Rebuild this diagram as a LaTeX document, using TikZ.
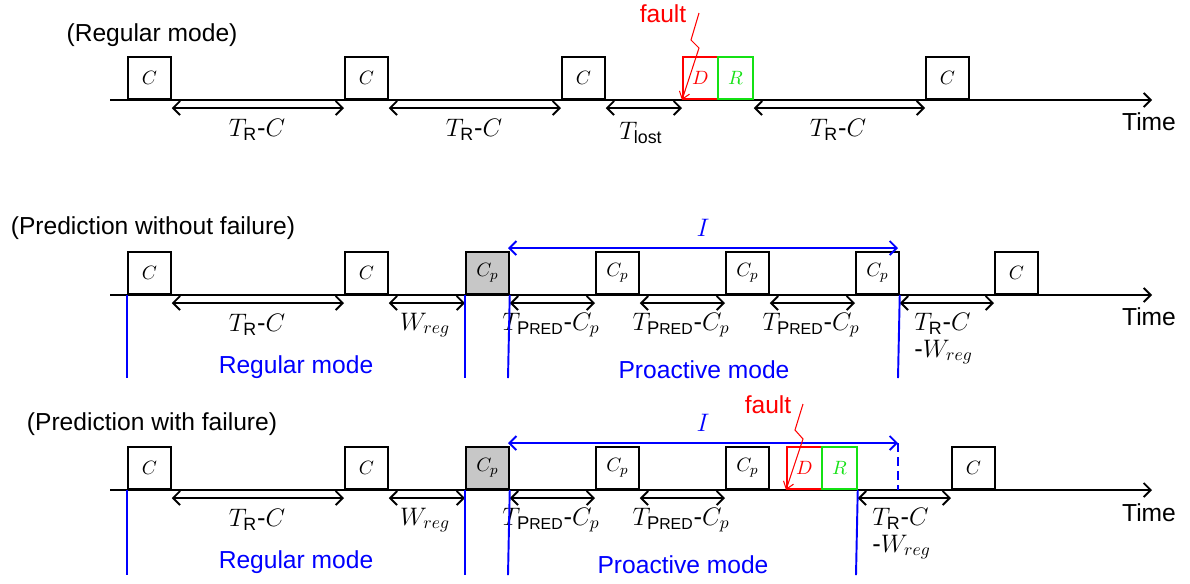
\documentclass[tikz,border=0pt]{standalone}
\usepackage{fontspec}
\setmainfont{Liberation Sans}
\setsansfont{Liberation Sans}
\usetikzlibrary{arrows.meta,calc}
\definecolor{fgreen}{RGB}{20,225,20}
\newcommand{\pred}{\mbox{\fontsize{10.5}{10.5}\selectfont P\fontsize{9}{9}\selectfont RED}}
\begin{document}
\begin{tikzpicture}[x=0.02cm,y=-0.02cm,
  box/.style={draw, line width=1pt, minimum width=0.86cm, minimum height=0.84cm, inner sep=0pt, anchor=south west, font=\fontsize{11}{13}\selectfont},
  pbox/.style={box, fill=black!22},
  dbox/.style={box, draw=red, text=red, minimum width=0.7cm},
  rbox/.style={box, draw=fgreen, text=fgreen, minimum width=0.7cm},
  span/.style={{Straight Barb[length=4pt,width=8pt]}-{Straight Barb[length=4pt,width=8pt]}, line width=1.1pt},
  tl/.style={-{Straight Barb[length=4pt,width=8pt]}, line width=1.1pt},
  lab/.style={font=\fontsize{14.5}{17}\selectfont, inner sep=0pt},
  sans/.style={font=\fontsize{14}{16}\selectfont, inner sep=0pt},
  bl/.style={blue, line width=1.1pt},
  ispan/.style={blue, line width=1.1pt, {Straight Barb[length=4pt,width=8pt]}-{Straight Barb[length=4pt,width=8pt]}},
  faultarr/.style={red, line width=0.6pt, -{Straight Barb[length=4pt,width=6pt]}}
]
\useasboundingbox (0,0) rectangle (1190,583);

% ---------------- Row 1: Regular mode
\node[sans] (t1) at (152,35) {(Regular mode)};
\coordinate (s1) at (110,100); \coordinate (e1) at (1152,100);
\draw[tl] (s1) -- (e1);
\node[sans] (time1) at (1149,122) {Time};
\node[box] (a1) at (127,100) {$C$};
\node[box] (a2) at (344,100) {$C$};
\node[box] (a3) at (561,100) {$C$};
\node[dbox] (d1) at (682,100) {$D$};
\node[rbox] (r1) at (717,100) {$R$};
\node[box] (a4) at (925,100) {$C$};
\draw[span] ($(a1.south east)+(0,8)$) -- ($(a2.south west)+(0,8)$);
\draw[span] ($(a2.south east)+(0,8)$) -- ($(a3.south west)+(0,8)$);
\draw[span] ($(a3.south east)+(0,8)$) -- ($(d1.south west)+(0,8)$);
\draw[span] ($(r1.south east)+(0,8)$) -- ($(a4.south west)+(0,8)$);
\node[lab] (l11) at (257,130) {$T_{\mathsf{R}}\mbox{-}C$};
\node[lab] (l12) at (474,130) {$T_{\mathsf{R}}\mbox{-}C$};
\node[lab] (l13) at (641,133) {$T_{\mathsf{lost}}$};
\node[lab] (l14) at (838,130) {$T_{\mathsf{R}}\mbox{-}C$};
\node[sans, red] (f1) at (663,14) {fault};
\coordinate (f1a) at (699,13);
\draw[faultarr] (f1a) -- (691,40) -- (699,48) -- (d1.south west);

% ---------------- Row 2: Prediction without failure
\node[sans] (t2) at (153,228) {(Prediction without failure)};
\coordinate (s2) at (110,295); \coordinate (e2) at (1152,295);
\draw[tl] (s2) -- (e2);
\node[sans] (time2) at (1149,317) {Time};
\node[box] (b1) at (127,295) {$C$};
\node[box] (b2) at (344,295) {$C$};
\node[pbox] (b3) at (465,295) {$C_p$};
\node[box] (b4) at (595,295) {$C_p$};
\node[box] (b5) at (725,295) {$C_p$};
\node[box] (b6) at (855,295) {$C_p$};
\node[box] (b7) at (994,295) {$C$};
\draw[span] ($(b1.south east)+(0,8)$) -- ($(b2.south west)+(0,8)$);
\draw[span] ($(b2.south east)+(0,8)$) -- ($(b3.south west)+(0,8)$);
\draw[span] ($(b3.south east)+(0,8)$) -- ($(b4.south west)+(0,8)$);
\draw[span] ($(b4.south east)+(0,8)$) -- ($(b5.south west)+(0,8)$);
\draw[span] ($(b5.south east)+(0,8)$) -- ($(b6.south west)+(0,8)$);
\draw[span] ($(b6.south east)+(0,8)$) -- ($(b7.south west)+(0,8)$);
\node[lab] (l21) at (257,325) {$T_{\mathsf{R}}\mbox{-}C$};
\node[lab] (l22) at (425,325) {$W_{reg}$};
\node[lab] (l23) at (551,325) {$T_{\pred}\mbox{-}C_p$};
\node[lab] (l24) at (681,325) {$T_{\pred}\mbox{-}C_p$};
\node[lab] (l25) at (811,325) {$T_{\pred}\mbox{-}C_p$};
\node[lab, align=left, anchor=north west] (l26) at (914,313) {$T_{\mathsf{R}}\mbox{-}C$\\[-2pt]$\mbox{-}W_{reg}$};
\coordinate (i2a) at (508,248); \coordinate (i2b) at (898,248);
\draw[ispan] (i2a) -- (i2b);
\node[lab, blue] (i2) at (703,228) {$I$};
\coordinate (v21) at (127,378); \coordinate (v22) at (465,378);
\coordinate (v23) at (508,378); \coordinate (v24) at (898,378);
\draw[bl] (b1.south west) -- (v21);
\draw[bl] (b3.south west) -- (v22);
\draw[bl] (b3.south east) -- (v23);
\draw[bl] (b6.south east) -- (v24);
\node[sans, blue] (rm2) at (296,367) {Regular mode};
\node[sans, blue] (pm2) at (704,370) {Proactive mode};

% ---------------- Row 3: Prediction with failure
\node[sans] (t3) at (152,424) {(Prediction with failure)};
\coordinate (s3) at (110,490); \coordinate (e3) at (1152,490);
\draw[tl] (s3) -- (e3);
\node[sans] (time3) at (1149,513) {Time};
\node[box] (c1) at (127,490) {$C$};
\node[box] (c2) at (344,490) {$C$};
\node[pbox] (c3) at (465,490) {$C_p$};
\node[box] (c4) at (595,490) {$C_p$};
\node[box] (c5) at (725,490) {$C_p$};
\node[dbox] (d3) at (786,490) {$D$};
\node[rbox] (r3) at (821,490) {$R$};
\node[box] (c6) at (951,490) {$C$};
\draw[span] ($(c1.south east)+(0,8)$) -- ($(c2.south west)+(0,8)$);
\draw[span] ($(c2.south east)+(0,8)$) -- ($(c3.south west)+(0,8)$);
\draw[span] ($(c3.south east)+(0,8)$) -- ($(c4.south west)+(0,8)$);
\draw[span] ($(c4.south east)+(0,8)$) -- ($(c5.south west)+(0,8)$);
\draw[span] ($(r3.south east)+(0,8)$) -- ($(c6.south west)+(0,8)$);
\node[lab] (l31) at (257,520) {$T_{\mathsf{R}}\mbox{-}C$};
\node[lab] (l32) at (425,520) {$W_{reg}$};
\node[lab] (l33) at (551,520) {$T_{\pred}\mbox{-}C_p$};
\node[lab] (l34) at (681,520) {$T_{\pred}\mbox{-}C_p$};
\node[lab, align=left, anchor=north west] (l35) at (872,508) {$T_{\mathsf{R}}\mbox{-}C$\\[-2pt]$\mbox{-}W_{reg}$};
\coordinate (i3a) at (508,443); \coordinate (i3b) at (898,443);
\coordinate (i3c) at (898,490);
\draw[ispan] (i3a) -- (i3b);
\draw[blue, line width=0.8pt, dash pattern=on 5pt off 3pt] (i3b) -- (i3c);
\node[lab, blue] (i3) at (703,423) {$I$};
\coordinate (v31) at (127,575); \coordinate (v32) at (465,575);
\coordinate (v33) at (508,575); \coordinate (v34) at (856,575);
\draw[bl] (c1.south west) -- (v31);
\draw[bl] (c3.south west) -- (v32);
\draw[bl] (c3.south east) -- (v33);
\draw[bl] (r3.south east) -- (v34);
\node[sans, blue] (rm3) at (296,562) {Regular mode};
\node[sans, blue] (pm3) at (683,565) {Proactive mode};
\node[sans, red] (f3) at (768,405) {fault};
\coordinate (f3a) at (803,404);
\draw[faultarr] (f3a) -- (795,430) -- (803,439) -- (d3.south west);
\end{tikzpicture}
\end{document}
